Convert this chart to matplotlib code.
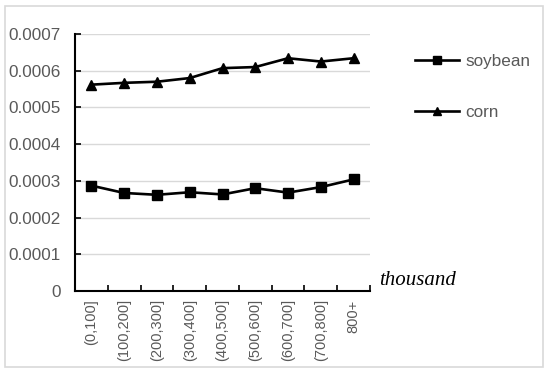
import matplotlib
matplotlib.use("Agg")
import matplotlib.pyplot as plt
from matplotlib.patches import Rectangle
from matplotlib.ticker import FixedLocator, NullFormatter, FixedFormatter

categories = ["(0,100]", "(100,200]", "(200,300]", "(300,400]", "(400,500]",
              "(500,600]", "(600,700]", "(700,800]", "800+"]
soybean = [0.000287, 0.000267, 0.000262, 0.000269, 0.000263, 0.000280, 0.000268, 0.000283, 0.000304]
corn = [0.000562, 0.000567, 0.000570, 0.000580, 0.000607, 0.000610, 0.000634, 0.000625, 0.000634]
yticks = [0, 0.0001, 0.0002, 0.0003, 0.0004, 0.0005, 0.0006, 0.0007]
ytick_labels = ["0", "0.0001", "0.0002", "0.0003", "0.0004", "0.0005", "0.0006", "0.0007"]

plt.rcParams['font.family'] = ['Liberation Sans', 'DejaVu Sans']

fig = plt.figure(figsize=(5.5, 3.73), dpi=100)
ax = fig.add_axes([75/550, 1-291/373, (370-75)/550, (291-34)/373])

x = list(range(len(categories)))
ax.plot(x, soybean, color='black', lw=1.9, marker='s', markersize=6.5, label='soybean')
ax.plot(x, corn, color='black', lw=1.9, marker='^', markersize=7, label='corn')

ax.set_xlim(-0.5, len(categories) - 0.5)
ax.set_ylim(0, 0.0007)
ax.set_yticks(yticks)
ax.set_yticklabels(ytick_labels)

ax.xaxis.set_major_locator(FixedLocator([i - 0.5 for i in range(len(categories) + 1)]))
ax.xaxis.set_major_formatter(NullFormatter())
ax.xaxis.set_minor_locator(FixedLocator(x))
ax.xaxis.set_minor_formatter(FixedFormatter(categories))
ax.tick_params(axis='x', which='major', direction='in', length=4, width=1.2, color='black')
ax.tick_params(axis='x', which='minor', length=0, labelsize=10.5, labelcolor='#595959',
               labelrotation=90, pad=6)
ax.tick_params(axis='y', direction='in', length=4, width=1.2, color='black',
               labelsize=12.3, labelcolor='#595959', pad=10)

ax.grid(axis='y', color='#d9d9d9', lw=1)
ax.set_axisbelow(True)
for s in ['top', 'right']:
    ax.spines[s].set_visible(False)
for s in ['left', 'bottom']:
    ax.spines[s].set_color('black')
    ax.spines[s].set_linewidth(1.5)

fig.text(379/550, 1-285/373, "thousand", fontsize=15, style='italic',
         family=['Liberation Serif', 'DejaVu Serif'], ha='left', va='baseline')

fig.legend(loc='center left', bbox_to_anchor=(415/550, 1-87/373), frameon=False,
           fontsize=12.3, handlelength=2.6, handletextpad=0.35, labelspacing=2.1,
           borderpad=0, borderaxespad=0, labelcolor='#595959', markerscale=0.8)

fig.patches.append(Rectangle((5/550, 1-367/373), (543-5)/550, (367-6)/373,
                             transform=fig.transFigure, fill=False,
                             edgecolor='#d9d9d9', lw=1.2))

fig.savefig("out.png", dpi=100)
